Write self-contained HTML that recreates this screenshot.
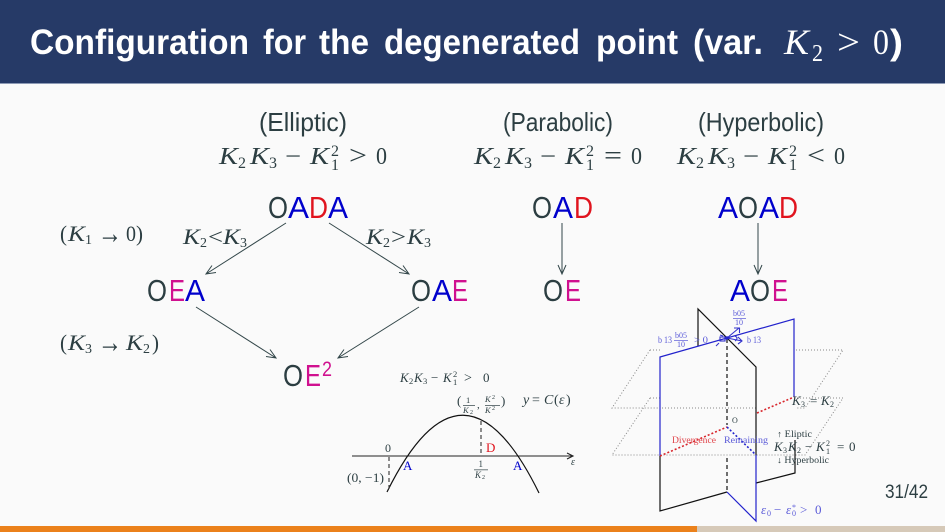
<!DOCTYPE html>
<html><head><meta charset="utf-8"><style>
html,body{margin:0;padding:0;background:#fafafa}
svg{display:block}
text{white-space:pre}
.s{font-family:"Liberation Sans",sans-serif}
.m{font-family:"Liberation Serif",serif;font-style:italic}
.r{font-family:"Liberation Serif",serif}
.d{fill:#2c3e42}
.b{fill:#0000cc}.e{fill:#e0141e}.p{fill:#d0108f}
.big{font-family:"Liberation Sans",sans-serif;font-size:31px}
.a{fill:none;stroke:#33474a;stroke-width:1}
.k{fill:none;stroke:#111;stroke-width:1.2}
.bl{fill:none;stroke:#2222cc;stroke-width:1.2}
.dot{fill:none;stroke:#888;stroke-width:1;stroke-dasharray:1 2}
</style></head><body>
<svg width="945" height="532" viewBox="0 0 945 532" xmlns="http://www.w3.org/2000/svg">
<rect width="945" height="532" fill="#fafafa"/>
<rect width="945" height="83" fill="#263a67"/>
<rect y="83" width="945" height="1" fill="#8d9ab5"/>
<rect y="526" width="697" height="6" fill="#eb811b"/>
<rect x="697" y="526" width="248" height="6" fill="#d6c9b8"/>

<!-- title -->
<g fill="#fff">
<g class="s" font-size="35" font-weight="bold">
<text x="30" y="54" textLength="219" lengthAdjust="spacingAndGlyphs">Configuration</text>
<text x="263" y="54" textLength="43" lengthAdjust="spacingAndGlyphs">for</text>
<text x="319" y="54" textLength="50" lengthAdjust="spacingAndGlyphs">the</text>
<text x="384" y="54" textLength="196" lengthAdjust="spacingAndGlyphs">degenerated</text>
<text x="596" y="54" textLength="82" lengthAdjust="spacingAndGlyphs">point</text>
<text x="693" y="54" textLength="70" lengthAdjust="spacingAndGlyphs">(var.</text>
</g>
<text class="m" x="784" y="54" font-size="36" textLength="25" lengthAdjust="spacingAndGlyphs">K</text>
<text class="r" x="812" y="61" font-size="24" textLength="11" lengthAdjust="spacingAndGlyphs">2</text>
<text class="r" x="837" y="54" font-size="36" textLength="23" lengthAdjust="spacingAndGlyphs">&gt;</text>
<text class="r" x="873" y="54" font-size="36" textLength="16" lengthAdjust="spacingAndGlyphs">0</text>
<text class="s" x="890" y="54" font-size="35" font-weight="bold" textLength="13" lengthAdjust="spacingAndGlyphs">)</text>
</g>

<!-- column headings -->
<g class="d" font-size="26">
<text class="s" x="259" y="131" textLength="88" lengthAdjust="spacingAndGlyphs">(Elliptic)</text>
<text class="s" x="503" y="131" textLength="110" lengthAdjust="spacingAndGlyphs">(Parabolic)</text>
<text class="s" x="698" y="131" textLength="126" lengthAdjust="spacingAndGlyphs">(Hyperbolic)</text>
</g>

<g class="d" transform="translate(219,164)">
<text class="m" font-size="24" x="0" textLength="19" lengthAdjust="spacingAndGlyphs">K</text><text class="r" font-size="16" x="19" y="4" textLength="8" lengthAdjust="spacingAndGlyphs">2</text>
<text class="m" font-size="24" x="31" textLength="19" lengthAdjust="spacingAndGlyphs">K</text><text class="r" font-size="16" x="50" y="4" textLength="8" lengthAdjust="spacingAndGlyphs">3</text>
<text class="r" font-size="24" x="66" textLength="16" lengthAdjust="spacingAndGlyphs">−</text>
<text class="m" font-size="24" x="91" textLength="19" lengthAdjust="spacingAndGlyphs">K</text><text class="r" font-size="16" x="112" y="-8" textLength="8" lengthAdjust="spacingAndGlyphs">2</text><text class="r" font-size="16" x="112" y="6" textLength="8" lengthAdjust="spacingAndGlyphs">1</text>
<text class="r" font-size="26" x="130" textLength="18" lengthAdjust="spacingAndGlyphs">&gt;</text>
<text class="r" font-size="24" x="157" textLength="11" lengthAdjust="spacingAndGlyphs">0</text>
</g>
<g class="d" transform="translate(474,164)">
<text class="m" font-size="24" x="0" textLength="19" lengthAdjust="spacingAndGlyphs">K</text><text class="r" font-size="16" x="19" y="4" textLength="8" lengthAdjust="spacingAndGlyphs">2</text>
<text class="m" font-size="24" x="31" textLength="19" lengthAdjust="spacingAndGlyphs">K</text><text class="r" font-size="16" x="50" y="4" textLength="8" lengthAdjust="spacingAndGlyphs">3</text>
<text class="r" font-size="24" x="66" textLength="16" lengthAdjust="spacingAndGlyphs">−</text>
<text class="m" font-size="24" x="91" textLength="19" lengthAdjust="spacingAndGlyphs">K</text><text class="r" font-size="16" x="112" y="-8" textLength="8" lengthAdjust="spacingAndGlyphs">2</text><text class="r" font-size="16" x="112" y="6" textLength="8" lengthAdjust="spacingAndGlyphs">1</text>
<text class="r" font-size="26" x="130" textLength="18" lengthAdjust="spacingAndGlyphs">=</text>
<text class="r" font-size="24" x="157" textLength="11" lengthAdjust="spacingAndGlyphs">0</text>
</g>
<g class="d" transform="translate(677,164)">
<text class="m" font-size="24" x="0" textLength="19" lengthAdjust="spacingAndGlyphs">K</text><text class="r" font-size="16" x="19" y="4" textLength="8" lengthAdjust="spacingAndGlyphs">2</text>
<text class="m" font-size="24" x="31" textLength="19" lengthAdjust="spacingAndGlyphs">K</text><text class="r" font-size="16" x="50" y="4" textLength="8" lengthAdjust="spacingAndGlyphs">3</text>
<text class="r" font-size="24" x="66" textLength="16" lengthAdjust="spacingAndGlyphs">−</text>
<text class="m" font-size="24" x="91" textLength="19" lengthAdjust="spacingAndGlyphs">K</text><text class="r" font-size="16" x="112" y="-8" textLength="8" lengthAdjust="spacingAndGlyphs">2</text><text class="r" font-size="16" x="112" y="6" textLength="8" lengthAdjust="spacingAndGlyphs">1</text>
<text class="r" font-size="26" x="130" textLength="18" lengthAdjust="spacingAndGlyphs">&lt;</text>
<text class="r" font-size="24" x="157" textLength="11" lengthAdjust="spacingAndGlyphs">0</text>
</g>

<!-- configuration labels -->
<g class="big">
<text class="d" x="268" y="218" textLength="20" lengthAdjust="spacingAndGlyphs">O</text><text class="b" x="288" y="218" textLength="21" lengthAdjust="spacingAndGlyphs">A</text><text class="e" x="309" y="218" textLength="19" lengthAdjust="spacingAndGlyphs">D</text><text class="b" x="328" y="218" textLength="20" lengthAdjust="spacingAndGlyphs">A</text>
<text class="d" x="532" y="218" textLength="20" lengthAdjust="spacingAndGlyphs">O</text><text class="b" x="553" y="218" textLength="20" lengthAdjust="spacingAndGlyphs">A</text><text class="e" x="574" y="218" textLength="19" lengthAdjust="spacingAndGlyphs">D</text>
<text class="b" x="718" y="218" textLength="20" lengthAdjust="spacingAndGlyphs">A</text><text class="d" x="738" y="218" textLength="20" lengthAdjust="spacingAndGlyphs">O</text><text class="b" x="759" y="218" textLength="20" lengthAdjust="spacingAndGlyphs">A</text><text class="e" x="779" y="218" textLength="19" lengthAdjust="spacingAndGlyphs">D</text>
<text class="d" x="147" y="301" textLength="20" lengthAdjust="spacingAndGlyphs">O</text><text class="p" x="169" y="301" textLength="16" lengthAdjust="spacingAndGlyphs">E</text><text class="b" x="185" y="301" textLength="20" lengthAdjust="spacingAndGlyphs">A</text>
<text class="d" x="411" y="301" textLength="20" lengthAdjust="spacingAndGlyphs">O</text><text class="b" x="432" y="301" textLength="20" lengthAdjust="spacingAndGlyphs">A</text><text class="p" x="452" y="301" textLength="16" lengthAdjust="spacingAndGlyphs">E</text>
<text class="d" x="543" y="301" textLength="20" lengthAdjust="spacingAndGlyphs">O</text><text class="p" x="565" y="301" textLength="16" lengthAdjust="spacingAndGlyphs">E</text>
<text class="b" x="730" y="301" textLength="20" lengthAdjust="spacingAndGlyphs">A</text><text class="d" x="750" y="301" textLength="20" lengthAdjust="spacingAndGlyphs">O</text><text class="p" x="772" y="301" textLength="16" lengthAdjust="spacingAndGlyphs">E</text>
<text class="d" x="283" y="386" textLength="20" lengthAdjust="spacingAndGlyphs">O</text><text class="p" x="305" y="386" textLength="16" lengthAdjust="spacingAndGlyphs">E</text>
</g>
<text class="p s" x="322" y="376" font-size="21" textLength="10" lengthAdjust="spacingAndGlyphs">2</text>

<!-- arrows -->
<path class="a" d="M286 223L206 274M216 272.5L206 274L212 265.5"/>
<path class="a" d="M329 223L409 274M399 272.5L409 274L403 265.5"/>
<path class="a" d="M196 307L276 358M266 356.5L276 358L270 349.5"/>
<path class="a" d="M419 307L338 358M348 356.5L338 358L344 349.5"/>
<path class="a" d="M562 223V274M558 265L562 274L566 265"/>
<path class="a" d="M758 223V274M754 265L758 274L762 265"/>

<!-- side labels -->
<g class="d" font-size="22">
<text class="r" x="60" y="241" textLength="7" lengthAdjust="spacingAndGlyphs">(</text><text class="m" x="68" y="241" textLength="17" lengthAdjust="spacingAndGlyphs">K</text><text class="r" x="85" y="244" font-size="14">1</text><text class="r" x="98" y="243" font-size="30" textLength="24" lengthAdjust="spacingAndGlyphs">→</text><text class="r" x="126" y="241" textLength="10" lengthAdjust="spacingAndGlyphs">0</text><text class="r" x="136" y="241" textLength="7" lengthAdjust="spacingAndGlyphs">)</text>
<text class="r" x="60" y="350" textLength="7" lengthAdjust="spacingAndGlyphs">(</text><text class="m" x="68" y="350" textLength="17" lengthAdjust="spacingAndGlyphs">K</text><text class="r" x="85" y="353" font-size="14">3</text><text class="r" x="98" y="352" font-size="30" textLength="24" lengthAdjust="spacingAndGlyphs">→</text><text class="m" x="126" y="350" textLength="17" lengthAdjust="spacingAndGlyphs">K</text><text class="r" x="143" y="353" font-size="14">2</text><text class="r" x="152" y="350" textLength="7" lengthAdjust="spacingAndGlyphs">)</text>
<text class="m" x="183" y="244" textLength="17" lengthAdjust="spacingAndGlyphs">K</text><text class="r" x="200" y="247" font-size="14">2</text><text class="r" x="208" y="244" textLength="15" lengthAdjust="spacingAndGlyphs">&lt;</text><text class="m" x="223" y="244" textLength="17" lengthAdjust="spacingAndGlyphs">K</text><text class="r" x="240" y="247" font-size="14">3</text>
<text class="m" x="366" y="244" textLength="17" lengthAdjust="spacingAndGlyphs">K</text><text class="r" x="383" y="247" font-size="14">2</text><text class="r" x="391" y="244" textLength="15" lengthAdjust="spacingAndGlyphs">&gt;</text><text class="m" x="407" y="244" textLength="17" lengthAdjust="spacingAndGlyphs">K</text><text class="r" x="424" y="247" font-size="14">3</text>
</g>

<!-- parabola plot -->
<path d="M352 456H572M567 453L573 456L567 459" fill="none" stroke="#222" stroke-width="1.1"/>
<path d="M387 492Q463 338 539 493" fill="none" stroke="#111" stroke-width="1.2"/>
<path d="M389 457V490" stroke="#444" stroke-width="1.2" stroke-dasharray="4 3" fill="none"/>
<path d="M481 421V456" stroke="#444" stroke-width="1.2" stroke-dasharray="4 3" fill="none"/>
<g class="d">
<text class="m" x="400" y="382" font-size="13">K</text><text class="r" x="409" y="384" font-size="8.500">2</text><text class="m" x="414" y="382" font-size="13">K</text><text class="r" x="423" y="384" font-size="8.500">3</text><text class="r" x="431" y="382" font-size="13">−</text><text class="m" x="443" y="382" font-size="13">K</text><text class="r" x="453" y="377" font-size="8.500">2</text><text class="r" x="453" y="385" font-size="8.500">1</text><text class="r" x="464" y="382" font-size="14">&gt;</text><text class="r" x="483" y="382" font-size="13">0</text>
<text class="r" x="457" y="405" font-size="13">(</text><text class="r" x="466" y="403" font-size="8.500">1</text><rect x="463" y="405" width="12" height=".7"/><text class="m" x="463" y="413" font-size="8.500">K</text><text class="r" x="470" y="414" font-size="6">2</text><text class="r" x="477" y="408" font-size="11">,</text><text class="m" x="485" y="402" font-size="8.500">K</text><text class="r" x="492" y="399" font-size="6">2</text><rect x="485" y="405" width="15" height=".7"/><text class="m" x="485" y="413" font-size="8.500">K</text><text class="r" x="492" y="410" font-size="6">2</text><text class="r" x="501" y="405" font-size="13">)</text>
<text class="m" x="523" y="404" font-size="14">y</text><text class="r" x="532" y="404" font-size="14">=</text><text class="m" x="544" y="404" font-size="14">C</text><text class="r" x="554" y="404" font-size="14">(</text><text class="m" x="559" y="404" font-size="14">ε</text><text class="r" x="566" y="404" font-size="14">)</text>
<text class="r" x="385" y="452" font-size="12">0</text>
<text class="r" x="347" y="482" font-size="13" textLength="37" lengthAdjust="spacingAndGlyphs">(0, −1)</text>
<text class="r" x="478.500" y="467" font-size="9">1</text><rect x="474" y="469.500" width="14" height=".7"/><text class="m" x="475" y="478" font-size="9">K</text><text class="r" x="482" y="479" font-size="6">2</text>
<text class="m" x="571" y="465" font-size="10">ε</text>
</g>
<text class="r e" x="486" y="452" font-size="13">D</text>
<text class="r b" x="403" y="470" font-size="13">A</text>
<text class="r b" x="513" y="470" font-size="13">A</text>

<!-- 3D figure: dotted planes -->
<path class="dot" d="M650 350H660M796 350H843L805 408H796M756 408H660M650 350L612 408H660"/>
<path class="dot" d="M650 398H660M794 398H843L805 455H612L650 398"/>
<!-- black plane -->
<path class="k" d="M698 346V309L756 367V455"/>
<path class="k" d="M660 456V511L727 492M756 483L795 473V440"/>
<path d="M727 339V425M727 458V492" stroke="#111" stroke-width="1.2" stroke-dasharray="4 3" fill="none"/>
<!-- blue plane -->
<path class="bl" d="M660 456V357L794 319V397"/>
<path class="bl" d="M727 492L756 521V455"/>
<!-- dotted intersections -->
<path d="M660 456L727 427M757 413L794 397" fill="none" stroke="#d8262c" stroke-width="1.6" stroke-dasharray="2 2"/>
<path d="M727 427L756 455" fill="none" stroke="#2222cc" stroke-width="1.6" stroke-dasharray="2 2"/>
<!-- origin detail -->
<g fill="none" stroke="#3333cc" stroke-width="1.1">
<path d="M727 338L739 328M734 328H739.500V333"/>
<path d="M727 338L742 341M738 337L742 341L738 344"/>
<path d="M720 335L723 336M716 346L719 343"/>
<rect x="720" y="337" width="5" height="4"/>
<path d="M735 336Q739 338 735 341"/>
</g>
<circle cx="727" cy="338" r="1.8" fill="#2222cc"/>
<g fill="#5a5ad8">
<text class="r" x="658" y="343" font-size="9" textLength="14" lengthAdjust="spacingAndGlyphs">b 13</text>
<text class="r" x="675" y="338" font-size="8">b05</text><rect x="674" y="340" width="14" height=".7"/><text class="r" x="677" y="347" font-size="8">10</text>
<text class="r" x="694" y="343" font-size="9" textLength="14" lengthAdjust="spacingAndGlyphs">&gt; 0</text>
<text class="r" x="747" y="343" font-size="9" textLength="14" lengthAdjust="spacingAndGlyphs">b 13</text>
<text class="r" x="733" y="316" font-size="8">b05</text><rect x="733" y="318" width="13" height=".7"/><text class="r" x="735" y="325" font-size="8">10</text>
<text class="m" x="761" y="514" font-size="13">ε</text><text class="r" x="767" y="516" font-size="8">0</text>
<text class="r" x="774" y="514" font-size="13">−</text>
<text class="m" x="786" y="514" font-size="13">ε</text><text class="r" x="792" y="516" font-size="8">0</text><text class="r" x="792" y="510" font-size="8">*</text>
<text class="r" x="800" y="514" font-size="13">&gt;</text><text class="r" x="815" y="514" font-size="13">0</text>
<text class="r" x="724" y="443" font-size="9" textLength="44" lengthAdjust="spacingAndGlyphs">Remaining</text>
</g>
<text class="r" x="672" y="443" font-size="9" fill="#e0444a" textLength="44" lengthAdjust="spacingAndGlyphs">Divergence</text>
<g class="d">
<text class="r" x="732" y="423" font-size="8">O</text>
<text class="m" x="792" y="405" font-size="13">K</text><text class="r" x="801" y="407" font-size="8">3</text><text class="r" x="810" y="405" font-size="13">=</text><text class="m" x="821" y="405" font-size="13">K</text><text class="r" x="830" y="407" font-size="8">2</text>
<text class="r" x="777" y="437" font-size="9" textLength="35" lengthAdjust="spacingAndGlyphs">↑ Eliptic</text>
<text class="m" x="774" y="451" font-size="13">K</text><text class="r" x="783" y="453" font-size="8">3</text><text class="m" x="788" y="451" font-size="13">K</text><text class="r" x="797" y="453" font-size="8">2</text><text class="r" x="805" y="451" font-size="13">−</text><text class="m" x="816" y="451" font-size="13">K</text><text class="r" x="826" y="446" font-size="8">2</text><text class="r" x="826" y="454" font-size="8">1</text><text class="r" x="837" y="451" font-size="13">=</text><text class="r" x="849" y="451" font-size="13">0</text>
<text class="r" x="777" y="463" font-size="9" textLength="52" lengthAdjust="spacingAndGlyphs">↓ Hyperbolic</text>
</g>
<text class="s d" x="885" y="498" font-size="19" textLength="43" lengthAdjust="spacingAndGlyphs">31/42</text>
</svg>
</body></html>
